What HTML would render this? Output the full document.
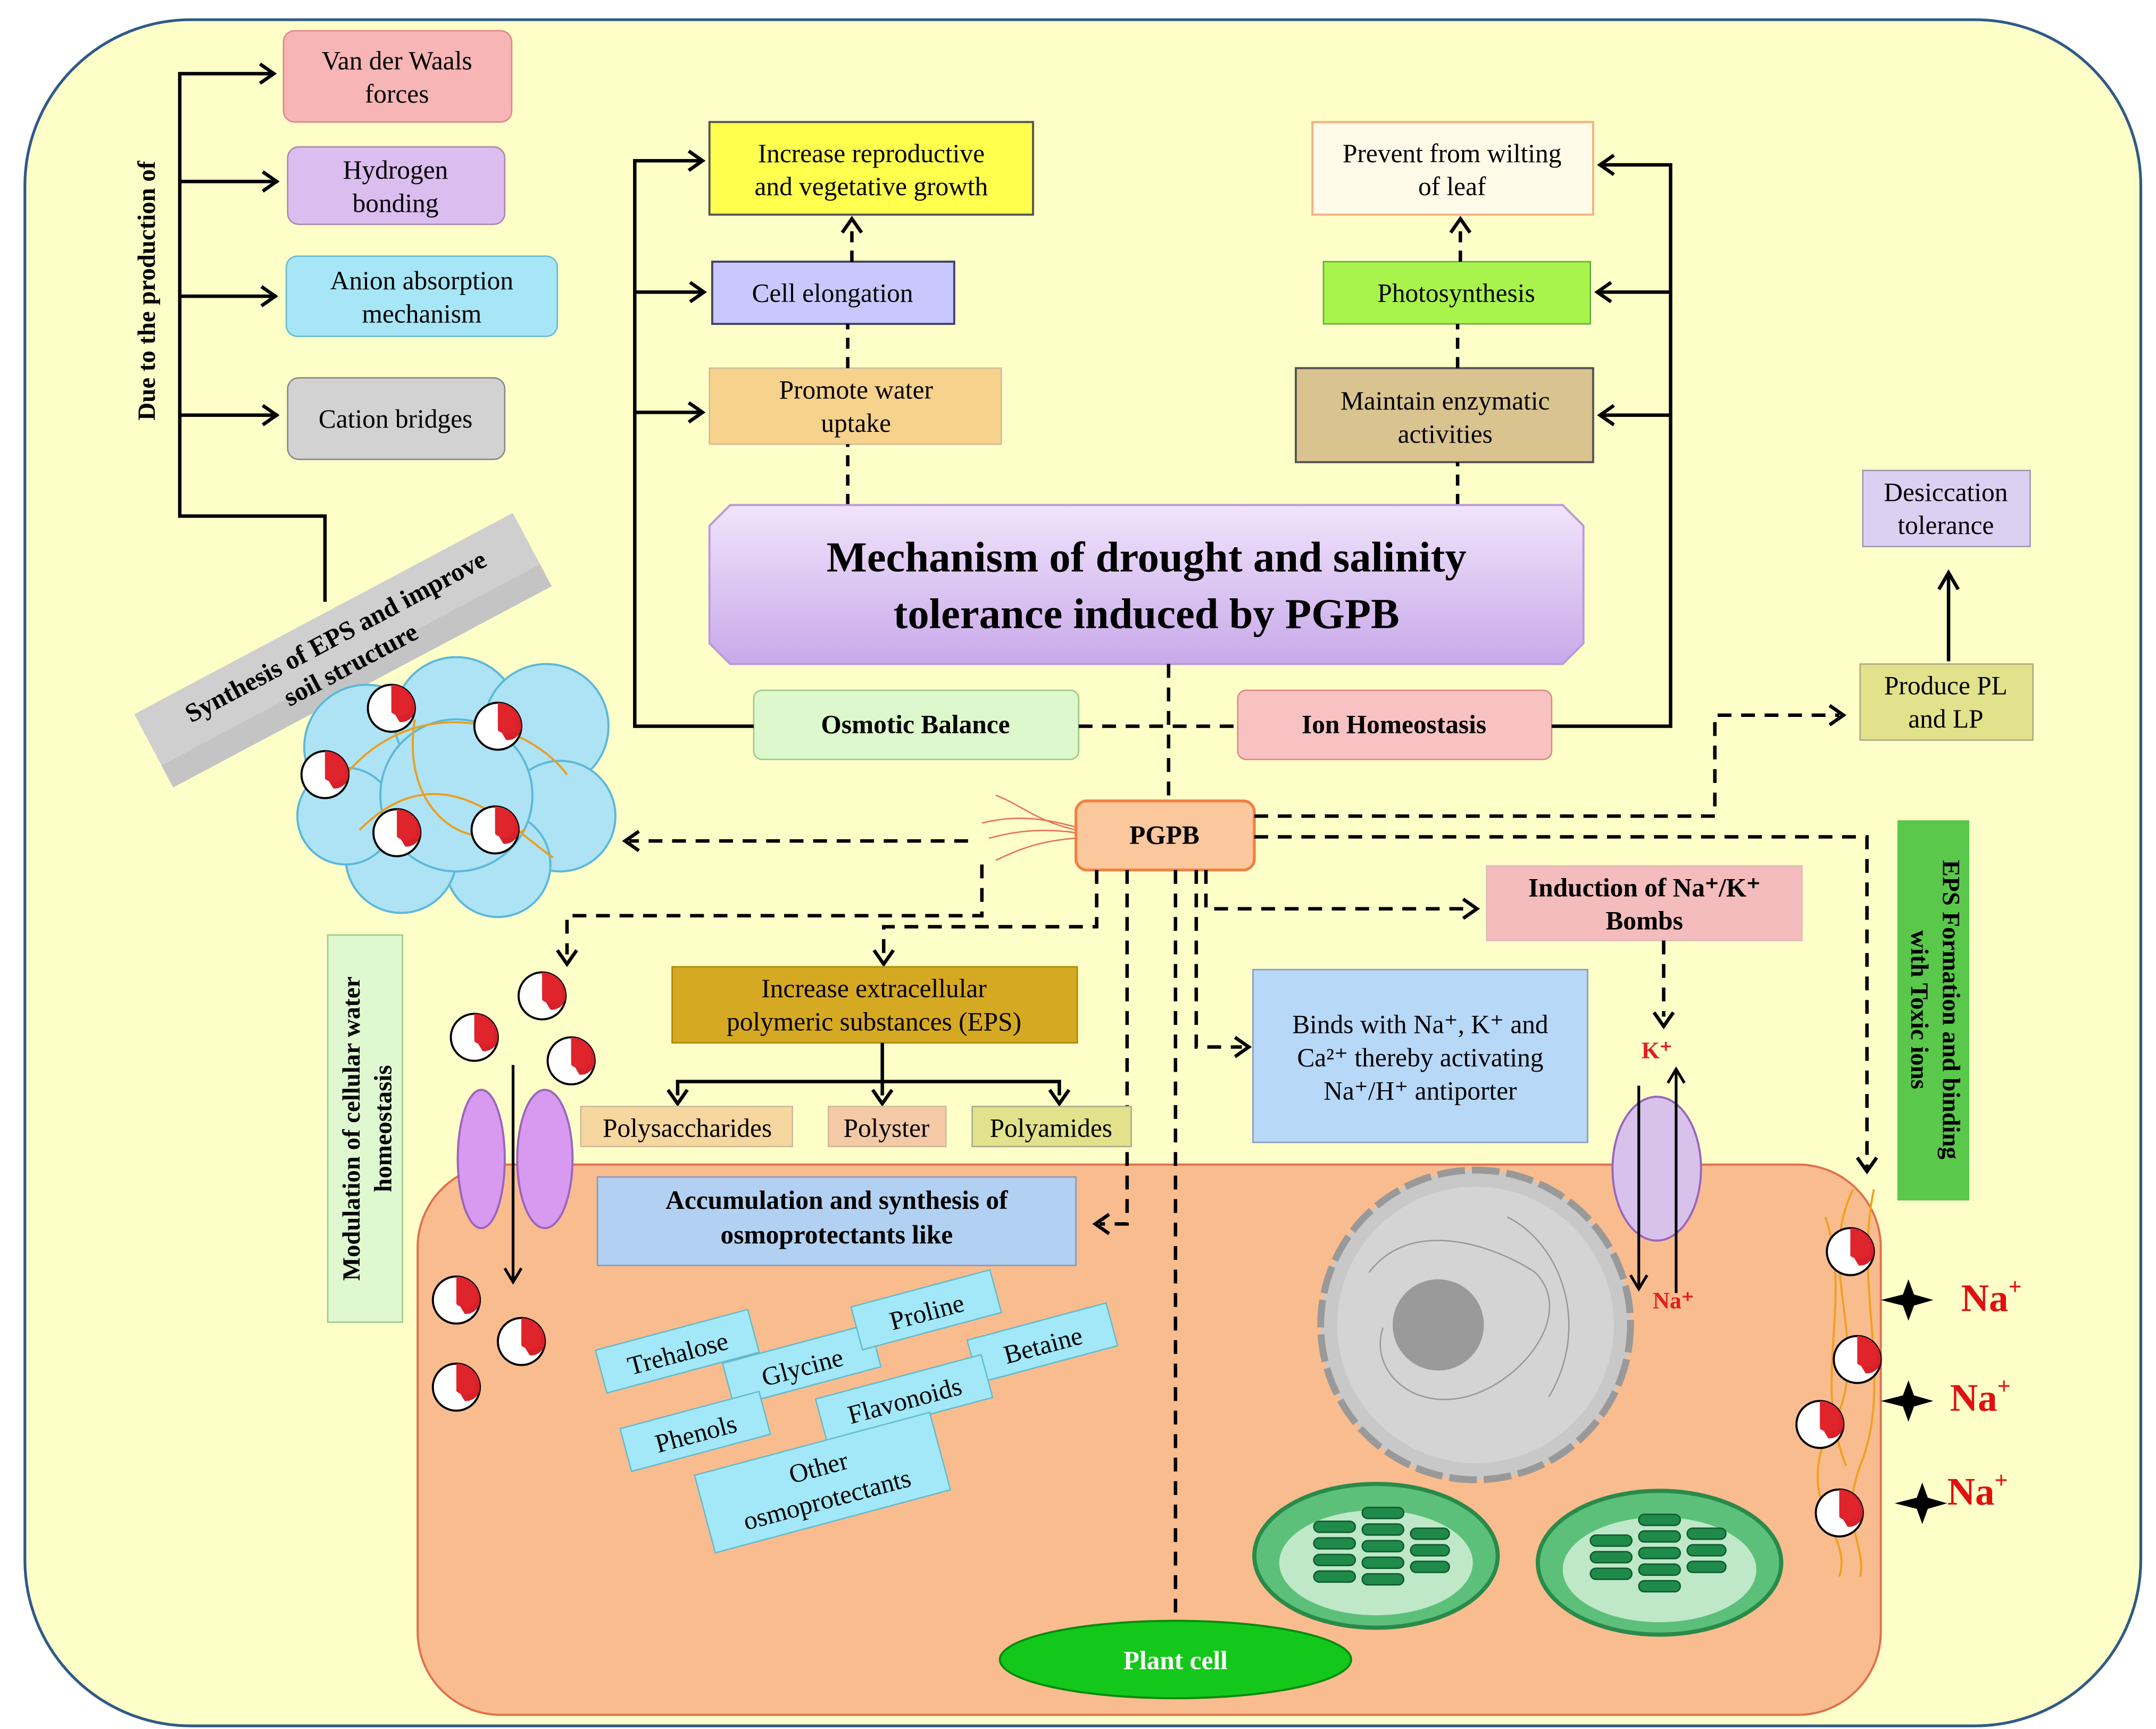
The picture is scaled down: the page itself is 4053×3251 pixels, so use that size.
<!DOCTYPE html>
<html><head><meta charset="utf-8"><style>
html,body{margin:0;padding:0;background:#fff;}
svg{display:block;}
text{font-family:"Liberation Serif",serif;}
</style></head><body>
<svg width="4053" height="3251" viewBox="0 0 1559 1250" xmlns="http://www.w3.org/2000/svg">
<defs>
<linearGradient id="tg" x1="0" y1="0" x2="0" y2="1"><stop offset="0" stop-color="#f0e4fb"/><stop offset="1" stop-color="#c9a9ea"/></linearGradient>
<g id="pac"><circle cx="0" cy="0" r="17" fill="#fff" stroke="#000" stroke-width="1.5"/><path d="M0,0 L0,-17 A17,17 0 0 1 17,0 A10,10 0 0 1 6,10 Z" fill="#d8202a"/><path d="M0,-17 A17,17 0 0 1 14,-8 L14,2 A10,10 0 0 1 0,3 Z" fill="#e0242c"/></g>
</defs>
<rect x="0" y="0" width="1559" height="1250" fill="#fff"/>
<rect x="18" y="14" width="1530" height="1234" rx="120" fill="#fefec9" stroke="#2e5a87" stroke-width="2"/>
<rect x="302" y="842" width="1058" height="398" rx="60" fill="#f9bc8f" stroke="#e0704a" stroke-width="1.5"/>

<rect x="205" y="22" width="165" height="66" rx="8" fill="#f7b5b5" stroke="#d88" stroke-width="1"/>
<text x="287" y="50" font-size="19" text-anchor="middle">Van der Waals</text><text x="287" y="74" font-size="19" text-anchor="middle">forces</text>
<rect x="208" y="106" width="157" height="56" rx="8" fill="#dbbdf0" stroke="#a8a" stroke-width="1"/>
<text x="286" y="129" font-size="19" text-anchor="middle">Hydrogen</text><text x="286" y="153" font-size="19" text-anchor="middle">bonding</text>
<rect x="207" y="185" width="196" height="58" rx="8" fill="#a6e6f6" stroke="#6bc" stroke-width="1"/>
<text x="305" y="209" font-size="19" text-anchor="middle">Anion absorption</text><text x="305" y="233" font-size="19" text-anchor="middle">mechanism</text>
<rect x="208" y="273" width="157" height="59" rx="8" fill="#d2d2d2" stroke="#888" stroke-width="1"/>
<text x="286" y="309" font-size="19" text-anchor="middle">Cation bridges</text>
<text transform="translate(112,210) rotate(-90)" font-size="18" font-weight="bold" text-anchor="middle">Due to the production of</text>
<path d="M235,435 V373 H130 V53 H198" fill="none" stroke="#000" stroke-width="2.5"/>
<path d="M130,131 H201 M130,214 H200 M130,300 H201" fill="none" stroke="#000" stroke-width="2.5"/>
<path d="M188,46 L198,53 L188,60 M190,124 L200,131 L190,138 M189,207 L199,214 L189,221 M190,293 L200,300 L190,307" fill="none" stroke="#000" stroke-width="2.5"/>

<g transform="translate(248,470) rotate(-28)">
<rect x="-155" y="-30" width="310" height="60" fill="#cfcfcf"/>
<rect x="-155" y="12" width="310" height="18" fill="#bdbdbd" opacity="0.6"/>
<text x="0" y="-5" font-size="19" font-weight="bold" text-anchor="middle">Synthesis of EPS and improve</text>
<text x="0" y="18" font-size="19" font-weight="bold" text-anchor="middle">soil structure</text>
</g>
<g fill="#aee3f5" stroke="#5bb8d8" stroke-width="1.5">
<circle cx="265" cy="540" r="45"/><circle cx="330" cy="520" r="45"/><circle cx="395" cy="525" r="45"/><circle cx="405" cy="590" r="40"/>
<circle cx="360" cy="625" r="38"/><circle cx="290" cy="620" r="40"/><circle cx="250" cy="590" r="35"/><circle cx="330" cy="575" r="55"/>
</g>
<path d="M250,560 C300,500 380,520 410,560 M260,600 C320,540 370,600 400,620 M300,520 C290,580 330,620 380,600" fill="none" stroke="#e8a020" stroke-width="1.5"/>
<use href="#pac" x="283" y="512"/><use href="#pac" x="360" y="525"/><use href="#pac" x="235" y="560"/><use href="#pac" x="287" y="602"/><use href="#pac" x="358" y="600"/>

<rect x="513" y="88" width="234" height="67" fill="#ffff4d" stroke="#555" stroke-width="1.5"/>
<text x="630" y="117" font-size="19" text-anchor="middle">Increase reproductive</text><text x="630" y="141" font-size="19" text-anchor="middle">and vegetative growth</text>
<rect x="515" y="189" width="175" height="45" fill="#c8c8ff" stroke="#446" stroke-width="1.5"/>
<text x="602" y="218" font-size="19" text-anchor="middle">Cell elongation</text>
<rect x="513" y="266" width="211" height="55" fill="#f7d28c" stroke="#cb9" stroke-width="1"/>
<text x="619" y="288" font-size="19" text-anchor="middle">Promote water</text><text x="619" y="312" font-size="19" text-anchor="middle">uptake</text>
<rect x="949" y="88" width="203" height="67" fill="#fffbe8" stroke="#f4b080" stroke-width="1.5"/>
<text x="1050" y="117" font-size="19" text-anchor="middle">Prevent from wilting</text><text x="1050" y="141" font-size="19" text-anchor="middle">of leaf</text>
<rect x="957" y="189" width="193" height="45" fill="#a8f44c" stroke="#6a4" stroke-width="1"/>
<text x="1053" y="218" font-size="19" text-anchor="middle">Photosynthesis</text>
<rect x="937" y="266" width="215" height="68" fill="#d9c38f" stroke="#555" stroke-width="1.5"/>
<text x="1045" y="296" font-size="19" text-anchor="middle">Maintain enzymatic</text><text x="1045" y="320" font-size="19" text-anchor="middle">activities</text>

<g stroke="#000" stroke-width="2.5" stroke-dasharray="8,6" fill="none">
<path d="M613,365 V321 M613,266 V234 M616,189 V162"/>
<path d="M1054,365 V334 M1054,266 V234 M1056,189 V162"/>
</g>
<path d="M609,168 L616,158 L623,168 M1049,168 L1056,158 L1063,168" fill="none" stroke="#000" stroke-width="2.5"/>

<path d="M528,365 H1130 L1145,380 V465 L1130,480 H528 L513,465 V380 Z" fill="url(#tg)" stroke="#b99ad8" stroke-width="1.5"/>
<text x="829" y="413" font-size="31" font-weight="bold" text-anchor="middle">Mechanism of drought and salinity</text>
<text x="829" y="454" font-size="31" font-weight="bold" text-anchor="middle">tolerance induced by PGPB</text>

<rect x="545" y="499" width="235" height="50" rx="6" fill="#dcf8cc" stroke="#9c8" stroke-width="1"/>
<text x="662" y="530" font-size="19" font-weight="bold" text-anchor="middle">Osmotic Balance</text>
<rect x="895" y="499" width="227" height="50" rx="6" fill="#f9c2c2" stroke="#d88" stroke-width="1"/>
<text x="1008" y="530" font-size="19" font-weight="bold" text-anchor="middle">Ion Homeostasis</text>
<path d="M545,525 H459 V116 H508 M459,211 H509 M459,298 H508" fill="none" stroke="#000" stroke-width="2.5"/>
<path d="M498,109 L508,116 L498,123 M499,204 L509,211 L499,218 M498,291 L508,298 L498,305" fill="none" stroke="#000" stroke-width="2.5"/>
<path d="M1122,525 H1208 V119 H1157 M1208,211 H1155 M1208,300 H1157" fill="none" stroke="#000" stroke-width="2.5"/>
<path d="M1167,112 L1157,119 L1167,126 M1165,204 L1155,211 L1165,218 M1167,293 L1157,300 L1167,307" fill="none" stroke="#000" stroke-width="2.5"/>
<path d="M780,525 H895 M845,480 V579" fill="none" stroke="#000" stroke-width="2.5" stroke-dasharray="10,7"/>

<path d="M778,598 C750,590 730,590 710,595 M778,602 C750,598 730,602 715,606 M778,606 C750,608 735,615 720,622 M778,600 C750,594 735,580 720,575" fill="none" stroke="#e8705a" stroke-width="1"/>
<rect x="778" y="579" width="129" height="50" rx="8" fill="#fbc79c" stroke="#f08040" stroke-width="2"/>
<text x="842" y="610" font-size="19" font-weight="bold" text-anchor="middle">PGPB</text>

<rect x="1347" y="340" width="121" height="55" fill="#dcd0f2" stroke="#99a" stroke-width="1"/>
<text x="1407" y="362" font-size="19" text-anchor="middle">Desiccation</text><text x="1407" y="386" font-size="19" text-anchor="middle">tolerance</text>
<rect x="1345" y="480" width="125" height="55" fill="#e2e28c" stroke="#aa8" stroke-width="1"/>
<text x="1407" y="502" font-size="19" text-anchor="middle">Produce  PL</text><text x="1407" y="526" font-size="19" text-anchor="middle">and LP</text>
<path d="M1409,478 V416" stroke="#000" stroke-width="2.5"/><path d="M1402,426 L1409,414 L1416,426" fill="none" stroke="#000" stroke-width="2.5"/>
<rect x="1075" y="626" width="228" height="54" fill="#f4bcbc" stroke="#dbb" stroke-width="1"/>
<text x="1189" y="648" font-size="19" font-weight="bold" text-anchor="middle">Induction of Na⁺/K⁺</text><text x="1189" y="672" font-size="19" font-weight="bold" text-anchor="middle">Bombs</text>
<rect x="906" y="701" width="242" height="125" fill="#b8d8f8" stroke="#89b" stroke-width="1"/>
<text x="1027" y="747" font-size="19" text-anchor="middle">Binds with Na⁺, K⁺ and</text>
<text x="1027" y="771" font-size="19" text-anchor="middle">Ca²⁺ thereby activating</text>
<text x="1027" y="795" font-size="19" text-anchor="middle">Na⁺/H⁺ antiporter</text>
<rect x="1372" y="593" width="52" height="275" fill="#5ac84a"/>
<text transform="translate(1405,730) rotate(90)" font-size="18" font-weight="bold" text-anchor="middle">EPS  Formation and binding</text>
<text transform="translate(1382,730) rotate(90)" font-size="18" font-weight="bold" text-anchor="middle">with Toxic ions</text>
<rect x="237" y="676" width="54" height="280" fill="#e0f8d0" stroke="#9c8" stroke-width="1"/>
<text transform="translate(260,816) rotate(-90)" font-size="18" font-weight="bold" text-anchor="middle">Modulation of cellular water</text>
<text transform="translate(283,816) rotate(-90)" font-size="18" font-weight="bold" text-anchor="middle">homeostasis</text>

<g stroke="#000" stroke-width="2.5" stroke-dasharray="10,7" fill="none">
<path d="M907,590 H1240 V517 H1330"/>
<path d="M907,605 H1350 V845"/>
<path d="M700,608 H455"/>
<path d="M710,625 V662 H410 V690"/>
<path d="M793,629 V670 H639 V690"/>
<path d="M815,629 V885 H795"/>
<path d="M850,629 V1170"/>
<path d="M865,629 V757 H898"/>
<path d="M872,629 V657 H1064"/>
<path d="M1203,680 V735"/>
</g>
<g fill="none" stroke="#000" stroke-width="2.5">
<path d="M1323,510 L1333,517 L1323,524"/><path d="M1343,837 L1350,847 L1357,837"/>
<path d="M462,601 L452,608 L462,615"/><path d="M403,687 L410,697 L417,687"/>
<path d="M632,687 L639,697 L646,687"/><path d="M802,878 L792,885 L802,892"/>
<path d="M893,750 L903,757 L893,764"/><path d="M1058,650 L1068,657 L1058,664"/>
<path d="M1196,732 L1203,742 L1210,732"/>
</g>

<rect x="486" y="699" width="293" height="55" fill="#d6a922" stroke="#a80" stroke-width="1"/>
<text x="632" y="721" font-size="19" text-anchor="middle">Increase extracellular</text><text x="632" y="745" font-size="19" text-anchor="middle">polymeric substances (EPS)</text>
<path d="M490,792 V782 H766 V792 M638,754 V792" fill="none" stroke="#000" stroke-width="2.5"/>
<path d="M483,788 L490,798 L497,788 M631,788 L638,798 L645,788 M759,788 L766,798 L773,788" fill="none" stroke="#000" stroke-width="2.5"/>
<rect x="420" y="800" width="153" height="29" fill="#f7d7a0" stroke="#cb9" stroke-width="1"/>
<text x="497" y="822" font-size="19" text-anchor="middle">Polysaccharides</text>
<rect x="599" y="800" width="85" height="29" fill="#f4c9a6" stroke="#cb9" stroke-width="1"/>
<text x="641" y="822" font-size="19" text-anchor="middle">Polyster</text>
<rect x="703" y="800" width="115" height="29" fill="#e2e28c" stroke="#aa8" stroke-width="1"/>
<text x="760" y="822" font-size="19" text-anchor="middle">Polyamides</text>
<rect x="432" y="851" width="346" height="64" fill="#b2d1f2" stroke="#89b" stroke-width="1"/>
<text x="605" y="874" font-size="19" font-weight="bold" text-anchor="middle">Accumulation and synthesis of</text>
<text x="605" y="899" font-size="19" font-weight="bold" text-anchor="middle">osmoprotectants like</text>

<g font-size="19" text-anchor="middle">
<g transform="translate(490,978) rotate(-15)"><rect x="-57" y="-17" width="114" height="32" fill="#a2e8f8" stroke="#6bc"/><text y="7">Trehalose</text></g>
<g transform="translate(580,988) rotate(-15)"><rect x="-55" y="-17" width="110" height="32" fill="#a2e8f8" stroke="#6bc"/><text y="7">Glycine</text></g>
<g transform="translate(670,948) rotate(-15)"><rect x="-52" y="-17" width="104" height="32" fill="#a2e8f8" stroke="#6bc"/><text y="7">Proline</text></g>
<g transform="translate(754,972) rotate(-15)"><rect x="-52" y="-17" width="104" height="32" fill="#a2e8f8" stroke="#6bc"/><text y="7">Betaine</text></g>
<g transform="translate(503,1036) rotate(-15)"><rect x="-52" y="-17" width="104" height="32" fill="#a2e8f8" stroke="#6bc"/><text y="7">Phenols</text></g>
<g transform="translate(654,1012) rotate(-15)"><rect x="-62" y="-17" width="124" height="32" fill="#a2e8f8" stroke="#6bc"/><text y="7">Flavonoids</text></g>
<g transform="translate(595,1073) rotate(-15)"><rect x="-88" y="-30" width="176" height="58" fill="#a2e8f8" stroke="#6bc"/><text y="-6">Other</text><text y="18">osmoprotectants</text></g>
</g>

<ellipse cx="348" cy="838" rx="17" ry="50" fill="#d79af0" stroke="#96b" stroke-width="1.5"/>
<ellipse cx="394" cy="838" rx="20" ry="50" fill="#d79af0" stroke="#96b" stroke-width="1.5"/>
<path d="M371,770 V925" stroke="#000" stroke-width="2"/><path d="M365,917 L371,927 L377,917" fill="none" stroke="#000" stroke-width="2"/>
<use href="#pac" x="392" y="720"/><use href="#pac" x="343" y="750"/><use href="#pac" x="413" y="767"/>
<use href="#pac" x="330" y="940"/><use href="#pac" x="377" y="970"/><use href="#pac" x="330" y="1003"/>

<circle cx="1067" cy="958" r="112" fill="#c8c8c8" stroke="#999" stroke-width="5" stroke-dasharray="20,5"/>
<circle cx="1067" cy="958" r="100" fill="#d4d4d4"/>
<circle cx="1040" cy="958" r="33" fill="#9a9a9a"/>
<path d="M990,920 C1020,880 1080,900 1110,920 C1140,950 1100,1000 1060,1010 C1020,1020 990,990 1000,960 M1090,880 C1130,900 1150,960 1120,1010" fill="none" stroke="#999" stroke-width="1"/>
<g>
<ellipse cx="995" cy="1125" rx="88" ry="52" fill="#5cc07a" stroke="#2a8a4a" stroke-width="3"/>
<ellipse cx="995" cy="1130" rx="70" ry="38" fill="#bfe8c8"/>
<ellipse cx="1200" cy="1130" rx="88" ry="52" fill="#5cc07a" stroke="#2a8a4a" stroke-width="3"/>
<ellipse cx="1200" cy="1135" rx="70" ry="38" fill="#bfe8c8"/>
<g fill="#1f8a4a" stroke="#0e5a2e" stroke-width="1">
<rect x="950" y="1100" width="30" height="8" rx="4"/><rect x="950" y="1112" width="30" height="8" rx="4"/><rect x="950" y="1124" width="30" height="8" rx="4"/><rect x="950" y="1136" width="30" height="8" rx="4"/>
<rect x="985" y="1090" width="30" height="8" rx="4"/><rect x="985" y="1102" width="30" height="8" rx="4"/><rect x="985" y="1114" width="30" height="8" rx="4"/><rect x="985" y="1126" width="30" height="8" rx="4"/><rect x="985" y="1138" width="30" height="8" rx="4"/>
<rect x="1020" y="1105" width="28" height="8" rx="4"/><rect x="1020" y="1117" width="28" height="8" rx="4"/><rect x="1020" y="1129" width="28" height="8" rx="4"/>
<rect x="1150" y="1110" width="30" height="8" rx="4"/><rect x="1150" y="1122" width="30" height="8" rx="4"/><rect x="1150" y="1134" width="30" height="8" rx="4"/>
<rect x="1185" y="1095" width="30" height="8" rx="4"/><rect x="1185" y="1107" width="30" height="8" rx="4"/><rect x="1185" y="1119" width="30" height="8" rx="4"/><rect x="1185" y="1131" width="30" height="8" rx="4"/><rect x="1185" y="1143" width="30" height="8" rx="4"/>
<rect x="1220" y="1105" width="28" height="8" rx="4"/><rect x="1220" y="1117" width="28" height="8" rx="4"/><rect x="1220" y="1129" width="28" height="8" rx="4"/>
</g></g>

<ellipse cx="1198" cy="845" rx="32" ry="52" fill="#d8c2ec" stroke="#96b" stroke-width="1.5"/>
<path d="M1185,785 V930 M1212,935 V775" stroke="#000" stroke-width="2"/>
<path d="M1179,922 L1185,932 L1191,922 M1206,783 L1212,773 L1218,783" fill="none" stroke="#000" stroke-width="2"/>
<text x="1198" y="765" font-size="17" font-weight="bold" fill="#e02020" text-anchor="middle">K⁺</text>
<text x="1210" y="946" font-size="17" font-weight="bold" fill="#e02020" text-anchor="middle">Na⁺</text>

<path d="M1340,860 C1310,920 1360,980 1320,1040 C1300,1090 1340,1110 1330,1140 M1355,860 C1340,930 1370,1000 1345,1060 C1330,1100 1350,1120 1345,1140 M1320,880 C1340,940 1310,1000 1335,1060" fill="none" stroke="#f0a020" stroke-width="1.5"/>
<use href="#pac" x="1338" y="905"/><use href="#pac" x="1343" y="983"/><use href="#pac" x="1316" y="1030"/><use href="#pac" x="1330" y="1094"/>
<g fill="#000">
<path d="M1380,925 L1384,936 L1398,940 L1384,944 L1380,955 L1376,944 L1360,940 L1376,936 Z"/>
<path d="M1380,998 L1384,1009 L1398,1013 L1384,1017 L1380,1028 L1376,1017 L1360,1013 L1376,1009 Z"/>
<path d="M1390,1072 L1394,1083 L1408,1087 L1394,1091 L1390,1102 L1386,1091 L1370,1087 L1386,1083 Z"/>
</g>
<text x="1418" y="948" font-size="28" font-weight="bold" fill="#e01010">Na<tspan font-size="17" dy="-12">+</tspan></text>
<text x="1410" y="1020" font-size="28" font-weight="bold" fill="#e01010">Na<tspan font-size="17" dy="-12">+</tspan></text>
<text x="1408" y="1088" font-size="28" font-weight="bold" fill="#e01010">Na<tspan font-size="17" dy="-12">+</tspan></text>

<ellipse cx="850" cy="1200" rx="127" ry="28" fill="#13c81a" stroke="#0a8a10" stroke-width="1.5"/>
<text x="850" y="1207" font-size="19" font-weight="bold" fill="#fff" text-anchor="middle">Plant cell</text>
</svg>
</body></html>
